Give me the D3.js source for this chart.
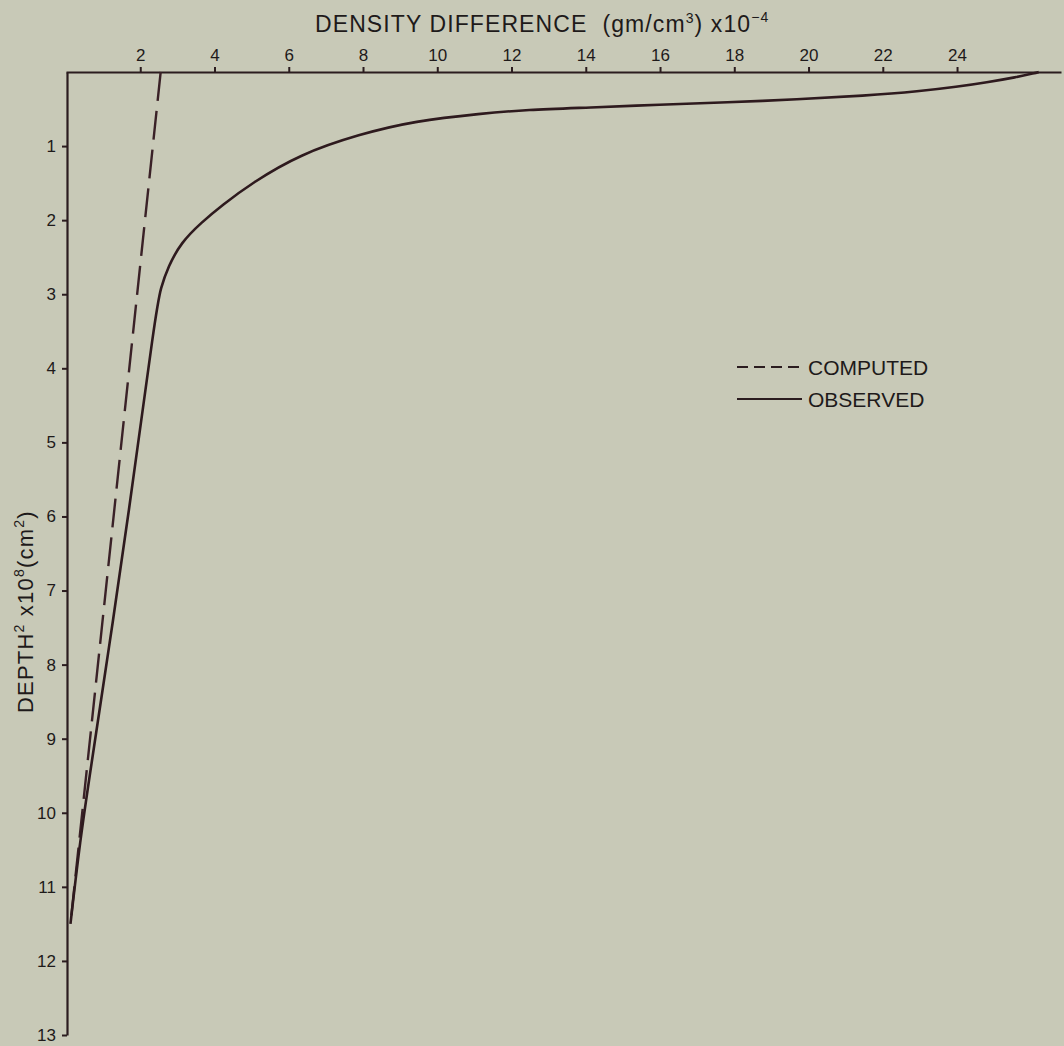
<!DOCTYPE html>
<html>
<head>
<meta charset="utf-8">
<script src="https://cdn.jsdelivr.net/npm/d3@7"></script>
<style>
  html, body { margin: 0; padding: 0; background: #c8c9b7; }
  svg { display: block; }
  text { font-family: "Liberation Sans", Arial, sans-serif; fill: #1e1a1a; }
</style>
</head>
<body>
<svg id="chart" width="1064" height="1046"></svg>
<script>
// ---- data ----
const xTicks = [2, 4, 6, 8, 10, 12, 14, 16, 18, 20, 22, 24];
const yTicks = [1, 2, 3, 4, 5, 6, 7, 8, 9, 10, 11, 12, 13];

// computed (dashed): density difference vs depth^2
const computedX = [2.55, 0.12];
const computedDepth = [0.0, 11.5];

// observed (solid)
const observedX = [26.2, 26.1, 25.6, 24.8, 24.0, 23.0, 21.5, 19.7, 17.8, 16.0, 14.1, 12.4, 11.2, 9.4, 7.9, 6.3, 5.0, 4.2, 3.65, 3.1, 2.75, 2.55, 2.43, 1.64, 1.19, 0.65, 0.38, 0.12];
const observedDepth = [0.0, 0.015, 0.07, 0.14, 0.20, 0.26, 0.32, 0.37, 0.41, 0.44, 0.48, 0.51, 0.56, 0.66, 0.84, 1.11, 1.50, 1.80, 2.03, 2.30, 2.63, 2.92, 3.20, 6.14, 7.66, 9.46, 10.37, 11.5];

const legendLabels = ["COMPUTED", "OBSERVED"];

// ---- drawing ----
const svg = d3.select("#chart");
const ink = "#2b1c1f";

const x = d3.scaleLinear().domain([0, 26.8]).range([66, 1061]);
const y = d3.scaleLinear().domain([0, 13]).range([72, 1035]);

// top axis
const gx = svg.append("g")
  .attr("transform", `translate(0,${y(0)})`)
  .call(d3.axisTop(x).tickValues(xTicks).tickSize(5).tickSizeOuter(0).tickPadding(6).tickFormat(d3.format("d")));
gx.select(".domain").attr("stroke", ink).attr("stroke-width", 2.2);
gx.selectAll(".tick line").attr("stroke", ink).attr("stroke-width", 2);
gx.selectAll(".tick text").attr("font-size", 17).attr("font-family", "Liberation Sans, Arial, sans-serif").attr("fill", "#1e1a1a");

// left axis
const gy = svg.append("g")
  .attr("transform", `translate(${x(0) + 1},0)`)
  .call(d3.axisLeft(y).tickValues(yTicks).tickSize(5).tickSizeOuter(0).tickPadding(6).tickFormat(d3.format("d")));
gy.select(".domain").attr("stroke", ink).attr("stroke-width", 2.2);
gy.selectAll(".tick line").attr("stroke", ink).attr("stroke-width", 2);
gy.selectAll(".tick text").attr("font-size", 17).attr("font-family", "Liberation Sans, Arial, sans-serif").attr("fill", "#1e1a1a");

// lines
const computed = computedX.map((v, i) => ({ x: v, d: computedDepth[i] }));
const observed = observedX.map((v, i) => ({ x: v, d: observedDepth[i] }));

const lineLin = d3.line().x(p => x(p.x)).y(p => y(p.d));
const lineSmooth = d3.line().x(p => x(p.x)).y(p => y(p.d)).curve(d3.curveBasis);

svg.append("path").datum(computed)
  .attr("d", lineLin)
  .attr("fill", "none").attr("stroke", "#3a2127").attr("stroke-width", 2.4)
  .attr("stroke-dasharray", "29,10");

svg.append("path").datum(observed)
  .attr("d", lineSmooth)
  .attr("fill", "none").attr("stroke", "#2e1a1e").attr("stroke-width", 2.6);

// title
const title = svg.append("text")
  .attr("x", 315).attr("y", 32)
  .attr("font-size", 23).attr("letter-spacing", 1.1);
title.append("tspan").text("DENSITY DIFFERENCE\u00a0\u00a0(gm/cm");
title.append("tspan").attr("dy", -9).attr("font-size", 14).text("3");
title.append("tspan").attr("dy", 9).text(")\u00a0x10");
title.append("tspan").attr("dy", -10).attr("font-size", 14).text("\u22124");

// y label
const ylab = svg.append("text")
  .attr("transform", `translate(33,713) rotate(-90)`)
  .attr("font-size", 22).attr("letter-spacing", 1.2);
ylab.append("tspan").text("DEPTH");
ylab.append("tspan").attr("dy", -9).attr("font-size", 14).text("2");
ylab.append("tspan").attr("dy", 9).text("\u00a0x10");
ylab.append("tspan").attr("dy", -9).attr("font-size", 14).text("8");
ylab.append("tspan").attr("dy", 9).text("(cm");
ylab.append("tspan").attr("dy", -9).attr("font-size", 14).text("2");
ylab.append("tspan").attr("dy", 9).text(")");

// legend
const legendY = [367, 399];
const lg = svg.append("g");
legendLabels.forEach((lab, i) => {
  lg.append("line")
    .attr("x1", 737).attr("x2", 802)
    .attr("y1", legendY[i]).attr("y2", legendY[i])
    .attr("stroke", ink).attr("stroke-width", 2.2)
    .attr("stroke-dasharray", i === 0 ? "11,6" : null);
  lg.append("text")
    .attr("x", 808).attr("y", legendY[i] + 8)
    .attr("font-size", 21)
    .text(lab);
});
</script>
</body>
</html>
